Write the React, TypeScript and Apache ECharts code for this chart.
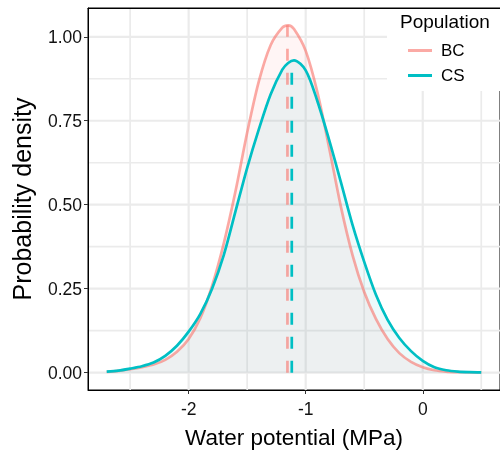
import React, { useEffect, useRef } from "react";
import * as echarts from "echarts";

// ---- data (density values at x = -2.7 … 0.5) ----
const X_VALUES = [
  -2.7, -2.6, -2.5, -2.4, -2.3, -2.2, -2.1, -2.0, -1.9, -1.8, -1.7, -1.6, -1.5, -1.4,
  -1.3, -1.2, -1.15, -1.1, -1.0, -0.9, -0.8, -0.7, -0.6, -0.5, -0.4, -0.3, -0.2, -0.1,
  0.0, 0.1, 0.2, 0.3, 0.4, 0.5,
];
const BC_DENSITY = [
  0.002, 0.005, 0.01, 0.016, 0.024, 0.038, 0.062, 0.1, 0.163, 0.258, 0.385, 0.54, 0.715, 0.868,
  0.975, 1.027, 1.034, 1.023, 0.958, 0.835, 0.67, 0.495, 0.35, 0.24, 0.16, 0.1, 0.058, 0.032,
  0.016, 0.007, 0.003, 0.0015, 0.001, 0.0005,
];
const CS_DENSITY = [
  0.003, 0.006, 0.012, 0.019, 0.03, 0.05, 0.08, 0.122, 0.175, 0.25, 0.35, 0.48, 0.61, 0.725,
  0.828, 0.902, 0.922, 0.93, 0.9, 0.808, 0.693, 0.568, 0.44, 0.33, 0.232, 0.157, 0.103, 0.064,
  0.035, 0.016, 0.007, 0.003, 0.0015, 0.001,
];
const BC_MEAN: [number, number] = [-1.156, 1.034];
const CS_MEAN: [number, number] = [-1.119, 0.931];

const X_TICKS = [-2, -1, 0];
const X_MINOR = [-2.5, -1.5, -0.5, 0.5];
const Y_TICKS = [0, 0.25, 0.5, 0.75, 1.0];
const Y_MINOR = [0.125, 0.375, 0.625, 0.875];
const X_RANGE = [-2.86, 0.66];
const Y_RANGE = [-0.0517, 1.0857];

const BC_LINE = "rgba(248,118,109,0.62)";
const CS_LINE = "#00BFC4";
const BC_FILL = "rgba(248,118,109,0.1)";
const CS_FILL = "rgba(0,191,196,0.1)";
const FONT = "Liberation Sans, Arial, sans-serif";

export default function App() {
  const ref = useRef<HTMLDivElement>(null);
  useEffect(() => {
    if (!ref.current) return;
    const chart = echarts.init(ref.current, undefined, { renderer: "svg" });

    const gridSeries: any[] = [];
    const addV = (v: number, w: number) =>
      gridSeries.push({
        type: "line", silent: true, symbol: "none", z: 1,
        data: [[v, Y_RANGE[0]], [v, Y_RANGE[1]]],
        lineStyle: { color: "#ebebeb", width: w },
      });
    const addH = (v: number, w: number) =>
      gridSeries.push({
        type: "line", silent: true, symbol: "none", z: 1,
        data: [[X_RANGE[0], v], [X_RANGE[1], v]],
        lineStyle: { color: "#ebebeb", width: w },
      });
    X_MINOR.forEach((v) => addV(v, 1.7));
    Y_MINOR.forEach((v) => addH(v, 1.7));
    X_TICKS.forEach((v) => addV(v, 2.2));
    Y_TICKS.forEach((v) => addH(v, 2.2));

    const bc = X_VALUES.map((x, i) => [x, BC_DENSITY[i]]);
    const cs = X_VALUES.map((x, i) => [x, CS_DENSITY[i]]);

    chart.setOption({
      animation: false,
      grid: {
        left: 88, top: 8, width: 414, height: 385,
        show: true, backgroundColor: "#fff", borderColor: "#000", borderWidth: 1,
      },
      xAxis: [
        {
          type: "value", min: X_RANGE[0], max: X_RANGE[1], z: 10,
          name: "Water potential (MPa)", nameLocation: "middle", nameGap: 36,
          nameTextStyle: { fontFamily: FONT, fontSize: 22.5, color: "#000" },
          axisLine: { show: true, onZero: false, lineStyle: { color: "#000", width: 1 } },
          axisTick: { show: true, length: 4, customValues: X_TICKS, lineStyle: { color: "#333", width: 1 } },
          axisLabel: {
            customValues: X_TICKS, margin: 10, fontFamily: FONT, fontSize: 17.5, color: "#111",
            formatter: (v: number) => String(v),
          },
          splitLine: { show: false },
        },
        {
          type: "value", position: "top", min: X_RANGE[0], max: X_RANGE[1], z: 10,
          axisLine: { show: true, onZero: false, lineStyle: { color: "#000", width: 1 } },
          axisTick: { show: false }, axisLabel: { show: false }, splitLine: { show: false },
        },
      ],
      yAxis: {
        type: "value", min: Y_RANGE[0], max: Y_RANGE[1], z: 10,
        name: "Probability density", nameLocation: "middle", nameGap: 54,
        nameTextStyle: { fontFamily: FONT, fontSize: 25, color: "#000" },
        axisLine: { show: true, onZero: false, lineStyle: { color: "#000", width: 1 } },
        axisTick: { show: true, length: 4, customValues: Y_TICKS, lineStyle: { color: "#333", width: 1 } },
        axisLabel: {
          customValues: Y_TICKS, margin: 6, fontFamily: FONT, fontSize: 17.5, color: "#111",
          formatter: (v: number) => v.toFixed(2),
        },
        splitLine: { show: false },
      },
      legend: {
        data: ["BC", "CS"], orient: "vertical", left: 408, top: 38, z: 11,
        icon: "rect", itemWidth: 24, itemHeight: 3, itemGap: 0, padding: 0,
        textStyle: { fontFamily: FONT, fontSize: 17, color: "#000", lineHeight: 25, padding: [0, 0, 0, 4] },
        selectedMode: false,
      },
      graphic: [
        { type: "rect", z: 10, shape: { x: 387, y: 9, width: 120, height: 82 }, style: { fill: "#fff" } },
        {
          type: "text", z: 12, left: 400, top: 12,
          style: { text: "Population", fontFamily: FONT, fontSize: 19, fill: "#000" },
        },
      ],
      series: [
        ...gridSeries,
        {
          name: "BC", type: "line", data: bc, smooth: 0.3, symbol: "none", z: 2,
          itemStyle: { color: BC_LINE }, lineStyle: { color: BC_LINE, width: 2.7 },
          areaStyle: { color: BC_FILL, origin: 0 },
        },
        {
          name: "CS", type: "line", data: cs, smooth: 0.3, symbol: "none", z: 2,
          itemStyle: { color: CS_LINE }, lineStyle: { color: CS_LINE, width: 2.7 },
          areaStyle: { color: CS_FILL, origin: 0 },
        },
        {
          name: "BC mean", type: "line", data: [[BC_MEAN[0], 0], BC_MEAN], symbol: "none", z: 3,
          lineStyle: { color: BC_LINE, width: 2.7, type: [12, 12] },
        },
        {
          name: "CS mean", type: "line", data: [[CS_MEAN[0], 0], CS_MEAN], symbol: "none", z: 3,
          lineStyle: { color: CS_LINE, width: 2.7, type: [12, 12] },
        },
      ],
    });
    return () => chart.dispose();
  }, []);
  return <div ref={ref} style={{ position: "fixed", left: 0, top: 0, width: 500, height: 454 }} />;
}
